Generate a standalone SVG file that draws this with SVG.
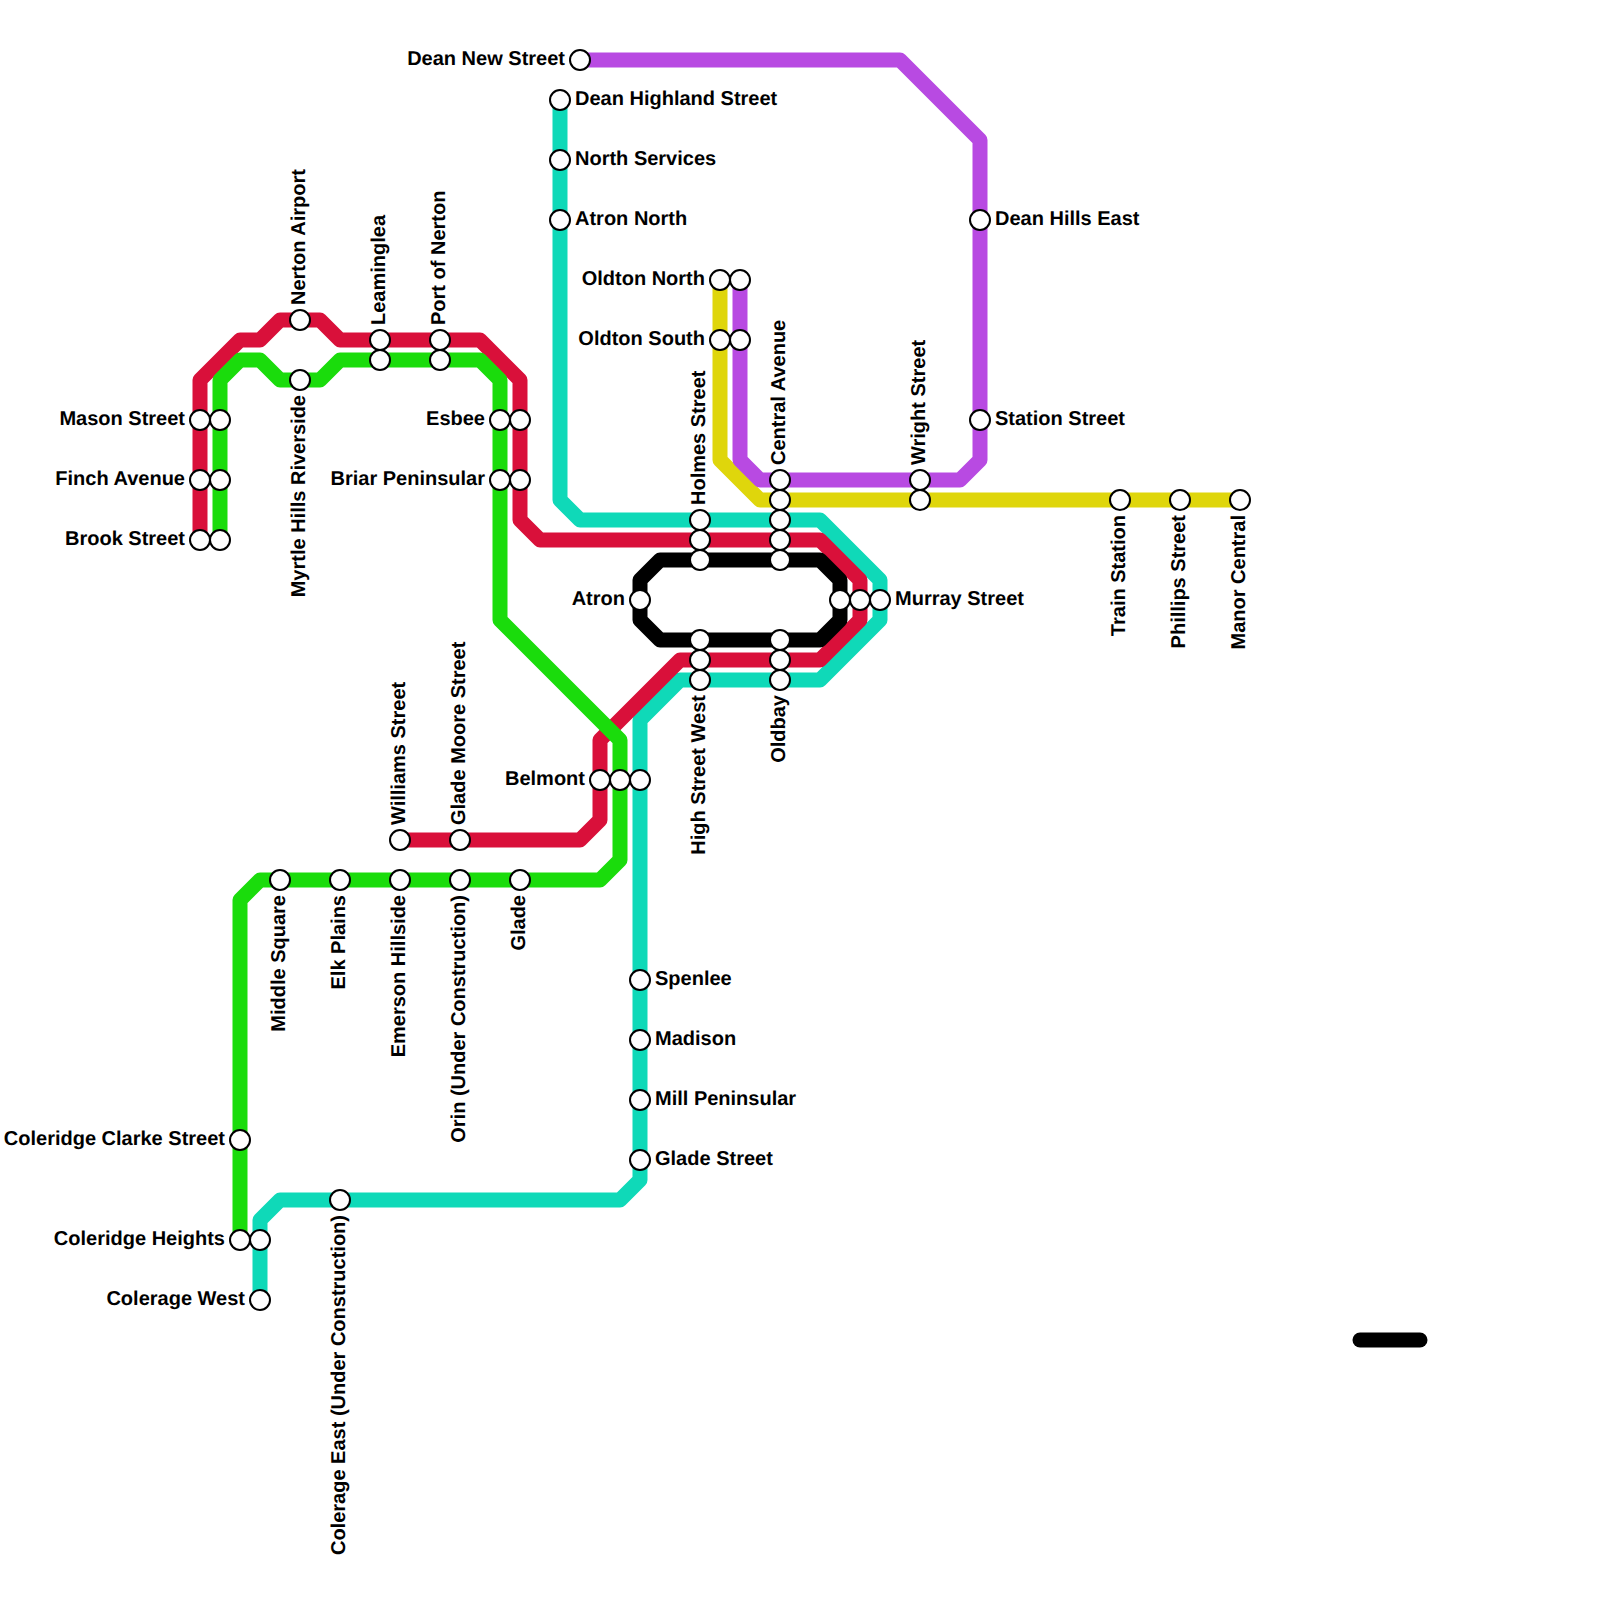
<svg xmlns="http://www.w3.org/2000/svg" width="1600" height="1600" viewBox="0 0 1600 1600">
<style>
.l{fill:none;stroke-width:15;stroke-linejoin:round}
.s{fill:#fff;stroke:#000;stroke-width:2}
text{font-family:"Liberation Sans",Arial,sans-serif;font-weight:bold;font-size:20px;fill:#000;text-rendering:geometricPrecision}
.e{text-anchor:end}
</style>
<rect width="1600" height="1600" fill="#fff"/>
<g id="connectors">
<path class="l" stroke="#0fd9b8" d="M560 100V500L580 520H820L880 580V620L820 680H680L640 720V1180L620 1200H280L260 1220V1300"/>
<path class="l" stroke="#d9103a" d="M200 540V380L240 340H260L280 320H320L340 340H480L520 380V520L540 540H820L860 580V620L820 660H680L600 740V820L580 840H400"/>
<path class="l" stroke="#1adc0c" d="M220 540V380L240 360H260L280 380H320L340 360H480L500 380V620L620 740V860L600 880H260L240 900V1240"/>
<path class="l" stroke="#dfd60c" d="M720 280V460L760 500H1240"/>
<path class="l" stroke="#b84ae2" d="M580 60H900L980 140V460L960 480H760L740 460V280"/>
<path class="l" stroke="#000" d="M640 600V580L660 560H820L840 580V620L820 640H660L640 620Z"/>
<path class="l" stroke="#000" stroke-linecap="round" d="M1360 1340H1420"/>
</g>
<g id="mason-street"><circle class="s" cx="200" cy="420" r="10"/><circle class="s" cx="220" cy="420" r="10"/><text class="e" x="185" y="425">Mason Street</text></g>
<g id="finch-avenue"><circle class="s" cx="200" cy="480" r="10"/><circle class="s" cx="220" cy="480" r="10"/><text class="e" x="185" y="485">Finch Avenue</text></g>
<g id="brook-street"><circle class="s" cx="200" cy="540" r="10"/><circle class="s" cx="220" cy="540" r="10"/><text class="e" x="185" y="545">Brook Street</text></g>
<g id="nerton-airport"><circle class="s" cx="300" cy="320" r="10"/><text transform="translate(305 305) rotate(-90)">Nerton Airport</text></g>
<g id="myrtle-hills-riverside"><circle class="s" cx="300" cy="380" r="10"/><text class="e" transform="translate(305 395) rotate(-90)">Myrtle Hills Riverside</text></g>
<g id="leaminglea"><circle class="s" cx="380" cy="340" r="10"/><circle class="s" cx="380" cy="360" r="10"/><text transform="translate(385 325) rotate(-90)">Leaminglea</text></g>
<g id="port-of-nerton"><circle class="s" cx="440" cy="340" r="10"/><circle class="s" cx="440" cy="360" r="10"/><text transform="translate(445 325) rotate(-90)">Port of Nerton</text></g>
<g id="esbee"><circle class="s" cx="500" cy="420" r="10"/><circle class="s" cx="520" cy="420" r="10"/><text class="e" x="485" y="425">Esbee</text></g>
<g id="briar-peninsular"><circle class="s" cx="500" cy="480" r="10"/><circle class="s" cx="520" cy="480" r="10"/><text class="e" x="485" y="485">Briar Peninsular</text></g>
<g id="dean-new-street"><circle class="s" cx="580" cy="60" r="10"/><text class="e" x="565" y="65">Dean New Street</text></g>
<g id="dean-highland-street"><circle class="s" cx="560" cy="100" r="10"/><text x="575" y="105">Dean Highland Street</text></g>
<g id="north-services"><circle class="s" cx="560" cy="160" r="10"/><text x="575" y="165">North Services</text></g>
<g id="atron-north"><circle class="s" cx="560" cy="220" r="10"/><text x="575" y="225">Atron North</text></g>
<g id="oldton-north"><circle class="s" cx="720" cy="280" r="10"/><circle class="s" cx="740" cy="280" r="10"/><text class="e" x="705" y="285">Oldton North</text></g>
<g id="oldton-south"><circle class="s" cx="720" cy="340" r="10"/><circle class="s" cx="740" cy="340" r="10"/><text class="e" x="705" y="345">Oldton South</text></g>
<g id="holmes-street"><circle class="s" cx="700" cy="520" r="10"/><circle class="s" cx="700" cy="540" r="10"/><circle class="s" cx="700" cy="560" r="10"/><text transform="translate(705 505) rotate(-90)">Holmes Street</text></g>
<g id="central-avenue"><circle class="s" cx="780" cy="480" r="10"/><circle class="s" cx="780" cy="500" r="10"/><circle class="s" cx="780" cy="520" r="10"/><circle class="s" cx="780" cy="540" r="10"/><circle class="s" cx="780" cy="560" r="10"/><text transform="translate(785 465) rotate(-90)">Central Avenue</text></g>
<g id="wright-street"><circle class="s" cx="920" cy="480" r="10"/><circle class="s" cx="920" cy="500" r="10"/><text transform="translate(925 465) rotate(-90)">Wright Street</text></g>
<g id="train-station"><circle class="s" cx="1120" cy="500" r="10"/><text class="e" transform="translate(1125 515) rotate(-90)">Train Station</text></g>
<g id="phillips-street"><circle class="s" cx="1180" cy="500" r="10"/><text class="e" transform="translate(1185 515) rotate(-90)">Phillips Street</text></g>
<g id="manor-central"><circle class="s" cx="1240" cy="500" r="10"/><text class="e" transform="translate(1245 515) rotate(-90)">Manor Central</text></g>
<g id="dean-hills-east"><circle class="s" cx="980" cy="220" r="10"/><text x="995" y="225">Dean Hills East</text></g>
<g id="station-street"><circle class="s" cx="980" cy="420" r="10"/><text x="995" y="425">Station Street</text></g>
<g id="atron"><circle class="s" cx="640" cy="600" r="10"/><text class="e" x="625" y="605">Atron</text></g>
<g id="murray-street"><circle class="s" cx="840" cy="600" r="10"/><circle class="s" cx="860" cy="600" r="10"/><circle class="s" cx="880" cy="600" r="10"/><text x="895" y="605">Murray Street</text></g>
<g id="high-street-west"><circle class="s" cx="700" cy="640" r="10"/><circle class="s" cx="700" cy="660" r="10"/><circle class="s" cx="700" cy="680" r="10"/><text class="e" transform="translate(705 695) rotate(-90)">High Street West</text></g>
<g id="oldbay"><circle class="s" cx="780" cy="640" r="10"/><circle class="s" cx="780" cy="660" r="10"/><circle class="s" cx="780" cy="680" r="10"/><text class="e" transform="translate(785 695) rotate(-90)">Oldbay</text></g>
<g id="belmont"><circle class="s" cx="600" cy="780" r="10"/><circle class="s" cx="620" cy="780" r="10"/><circle class="s" cx="640" cy="780" r="10"/><text class="e" x="585" y="785">Belmont</text></g>
<g id="williams-street"><circle class="s" cx="400" cy="840" r="10"/><text transform="translate(405 825) rotate(-90)">Williams Street</text></g>
<g id="glade-moore-street"><circle class="s" cx="460" cy="840" r="10"/><text transform="translate(465 825) rotate(-90)">Glade Moore Street</text></g>
<g id="middle-square"><circle class="s" cx="280" cy="880" r="10"/><text class="e" transform="translate(285 895) rotate(-90)">Middle Square</text></g>
<g id="elk-plains"><circle class="s" cx="340" cy="880" r="10"/><text class="e" transform="translate(345 895) rotate(-90)">Elk Plains</text></g>
<g id="emerson-hillside"><circle class="s" cx="400" cy="880" r="10"/><text class="e" transform="translate(405 895) rotate(-90)">Emerson Hillside</text></g>
<g id="orin"><circle class="s" cx="460" cy="880" r="10"/><text class="e" transform="translate(465 895) rotate(-90)">Orin (Under Construction)</text></g>
<g id="glade"><circle class="s" cx="520" cy="880" r="10"/><text class="e" transform="translate(525 895) rotate(-90)">Glade</text></g>
<g id="spenlee"><circle class="s" cx="640" cy="980" r="10"/><text x="655" y="985">Spenlee</text></g>
<g id="madison"><circle class="s" cx="640" cy="1040" r="10"/><text x="655" y="1045">Madison</text></g>
<g id="mill-peninsular"><circle class="s" cx="640" cy="1100" r="10"/><text x="655" y="1105">Mill Peninsular</text></g>
<g id="glade-street"><circle class="s" cx="640" cy="1160" r="10"/><text x="655" y="1165">Glade Street</text></g>
<g id="coleridge-clarke-street"><circle class="s" cx="240" cy="1140" r="10"/><text class="e" x="225" y="1145">Coleridge Clarke Street</text></g>
<g id="coleridge-heights"><circle class="s" cx="240" cy="1240" r="10"/><circle class="s" cx="260" cy="1240" r="10"/><text class="e" x="225" y="1245">Coleridge Heights</text></g>
<g id="colerage-west"><circle class="s" cx="260" cy="1300" r="10"/><text class="e" x="245" y="1305">Colerage West</text></g>
<g id="colerage-east"><circle class="s" cx="340" cy="1200" r="10"/><text class="e" transform="translate(345 1215) rotate(-90)">Colerage East (Under Construction)</text></g>
</svg>
